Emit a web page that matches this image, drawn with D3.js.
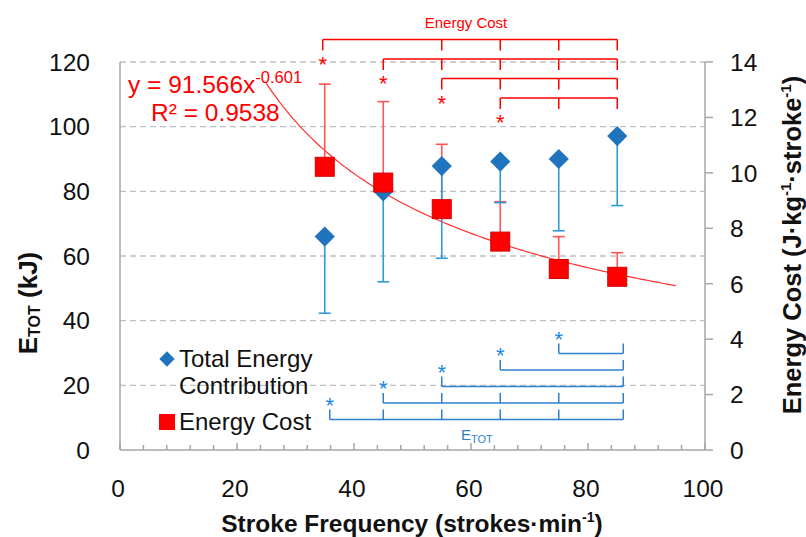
<!DOCTYPE html>
<html>
<head>
<meta charset="utf-8">
<script src="https://cdn.jsdelivr.net/npm/d3@7"></script>
<style>
  body { margin: 0; background: #fff; }
  svg { display: block; font-family: "Liberation Sans", Arial, sans-serif; }
</style>
</head>
<body>
<svg id="chart" width="806" height="537"></svg>
<script>
// stroke frequency (strokes/min)
const freq = [35, 45, 55, 65, 75, 85];
// total energy contribution, kJ (left axis), lower SD only
const etot = [66, 80, 87.8, 89.2, 90, 97.1];
const etotSD = [23.7, 28, 28.5, 12.7, 22.2, 21.5];
// energy cost, J/kg/stroke (right axis), upper SD only
const cost = [10.22, 9.65, 8.69, 7.52, 6.53, 6.25];
const costSD = [2.98, 2.92, 2.34, 1.44, 1.17, 0.87];

// power trendline shown on the chart: y = 91.566 x^-0.601
const trendCoef = 91.566, trendExp = -0.601, trendFrom = 25, trendTo = 95;

// significance brackets: [start freq, tick freqs]
const costBrackets = [
  [35, [35, 55, 65, 75, 85]],
  [45, [45, 55, 65, 75, 85]],
  [55, [55, 65, 75, 85]],
  [65, [65, 75, 85]]
];
const etotBrackets = [
  [35, [35, 45, 55, 65, 75, 85]],
  [45, [45, 55, 65, 75, 85]],
  [55, [55, 85]],
  [65, [65, 85]],
  [75, [75, 85]]
];

const xTicks = [0, 20, 40, 60, 80, 100];
const yLeftTicks = [0, 20, 40, 60, 80, 100, 120];
const yRightTicks = [0, 2, 4, 6, 8, 10, 12, 14];
const xMinor = d3.range(0, 101, 4);

const svg = d3.select("#chart");
const x = d3.scaleLinear().domain([0, 100]).range([120, 705]);
const yL = d3.scaleLinear().domain([0, 120]).range([450, 62]);
const yR = d3.scaleLinear().domain([0, 14]).range([450, 62]);

const RED = "#ff0000", BLUE = "#1f74bd", BLUEBAR = "#2e9ad8", BLUELINE = "#2f7fcf";
const AXIS = "#a6a6a6";

// grid
svg.append("g").selectAll("line").data(yLeftTicks.filter(d => d > 0)).join("line")
  .attr("x1", x(0)).attr("x2", x(100))
  .attr("y1", d => yL(d)).attr("y2", d => yL(d))
  .attr("stroke", "#c0c0c0").attr("stroke-width", 1.3).attr("stroke-dasharray", "6,4");

// axes lines
const ax = svg.append("g").attr("stroke", AXIS).attr("stroke-width", 1.5);
ax.append("line").attr("x1", x(0)).attr("x2", x(0)).attr("y1", yL(120)).attr("y2", yL(0));
ax.append("line").attr("x1", x(100)).attr("x2", x(100)).attr("y1", yL(120)).attr("y2", yL(0));
ax.append("line").attr("x1", x(0)).attr("x2", x(100)).attr("y1", yL(0)).attr("y2", yL(0));
ax.selectAll(".mt").data(xMinor).join("line")
  .attr("x1", d => x(d)).attr("x2", d => x(d))
  .attr("y1", yL(0)).attr("y2", d => yL(0) - (d % 20 === 0 ? 7 : 5));
ax.selectAll(".rt").data(yRightTicks).join("line")
  .attr("x1", x(100)).attr("x2", x(100) + 8)
  .attr("y1", d => yR(d)).attr("y2", d => yR(d));

// tick labels
const tl = svg.append("g").attr("font-size", 24.5).attr("fill", "#111");
tl.selectAll(".yl").data(yLeftTicks).join("text")
  .attr("x", 90).attr("y", d => yL(d)).attr("dy", "0.36em")
  .attr("text-anchor", "end").text(d => d);
tl.selectAll(".yr").data(yRightTicks).join("text")
  .attr("x", 730).attr("y", d => yR(d)).attr("dy", "0.36em")
  .text(d => d);
tl.selectAll(".xl").data(xTicks).join("text")
  .attr("x", d => x(d) - 2).attr("y", 497)
  .attr("text-anchor", "middle").text(d => d);

// axis titles
const lt = svg.append("text").attr("transform", "translate(37,303) rotate(-90)")
  .attr("text-anchor", "middle").attr("font-weight", "bold").attr("font-size", 26).attr("fill", "#111");
lt.append("tspan").text("E");
lt.append("tspan").attr("font-size", 16).attr("dy", 3).text("TOT");
lt.append("tspan").attr("dy", -3).text(" (kJ)");

const rt = svg.append("text").attr("transform", "translate(801,245) rotate(-90)")
  .attr("text-anchor", "middle").attr("font-weight", "bold").attr("font-size", 25.5).attr("fill", "#111");
rt.append("tspan").text("Energy Cost (J·kg");
rt.append("tspan").attr("font-size", 15).attr("dy", -10).text("-1");
rt.append("tspan").attr("dy", 10).text("·stroke");
rt.append("tspan").attr("font-size", 15).attr("dy", -10).text("-1");
rt.append("tspan").attr("dy", 10).text(")");

const bt = svg.append("text").attr("x", 412).attr("y", 532)
  .attr("text-anchor", "middle").attr("font-weight", "bold").attr("font-size", 24.5).attr("fill", "#111");
bt.append("tspan").text("Stroke Frequency (strokes·min");
bt.append("tspan").attr("font-size", 14).attr("dy", -10).text("-1");
bt.append("tspan").attr("dy", 10).text(")");

// trendline
const trend = d3.range(trendFrom, trendTo + 0.01, 0.5).map(f => [f, trendCoef * Math.pow(f, trendExp)]);
svg.append("path").datum(trend)
  .attr("d", d3.line().x(d => x(d[0])).y(d => yR(d[1])))
  .attr("fill", "none").attr("stroke", "#ff3030").attr("stroke-width", 1.2);

// error bars
const eb = svg.append("g");
freq.forEach((f, i) => {
  const top = yR(cost[i] + costSD[i]);
  eb.append("line").attr("x1", x(f)).attr("x2", x(f)).attr("y1", yR(cost[i])).attr("y2", top)
    .attr("stroke", "#ff5656").attr("stroke-width", 1.6);
  eb.append("line").attr("x1", x(f) - 6).attr("x2", x(f) + 6).attr("y1", top).attr("y2", top)
    .attr("stroke", "#ff5656").attr("stroke-width", 1.6);
});
freq.forEach((f, i) => {
  const bot = yL(etot[i] - etotSD[i]);
  eb.append("line").attr("x1", x(f)).attr("x2", x(f)).attr("y1", yL(etot[i])).attr("y2", bot)
    .attr("stroke", BLUEBAR).attr("stroke-width", 1.6);
  eb.append("line").attr("x1", x(f) - 6).attr("x2", x(f) + 6).attr("y1", bot).attr("y2", bot)
    .attr("stroke", BLUEBAR).attr("stroke-width", 1.6);
});

// markers
const diamond = d3.symbol().type(d3.symbolDiamond2).size(260);
svg.append("g").selectAll("path").data(freq).join("path")
  .attr("d", diamond)
  .attr("transform", (f, i) => `translate(${x(f)},${yL(etot[i])})`)
  .attr("fill", BLUE);
svg.append("g").selectAll("rect").data(freq).join("rect")
  .attr("x", f => x(f) - 9.5).attr("y", (f, i) => yR(cost[i]) - 9.5)
  .attr("width", 19).attr("height", 19)
  .attr("fill", RED).attr("stroke", "#d40000").attr("stroke-width", 1);

// equation
const eq = svg.append("g").attr("fill", RED).attr("font-size", 24.5);
const e1 = eq.append("text").attr("x", 128).attr("y", 93);
e1.append("tspan").text("y = 91.566x");
e1.append("tspan").attr("font-size", 16.5).attr("dy", -10).text("-0.601");
eq.append("text").attr("x", 151).attr("y", 121).text("R² = 0.9538");

// brackets - energy cost (top, red)
const cb = svg.append("g").attr("stroke", RED).attr("stroke-width", 1.5).attr("fill", "none");
costBrackets.forEach(([start, ticks], i) => {
  const yy = 39.5 + i * 19.5;
  const bx = d => x(d) - (d === 35 ? 2 : 0);
  cb.append("line").attr("x1", bx(start)).attr("x2", x(85)).attr("y1", yy).attr("y2", yy);
  cb.selectAll(null).data(ticks).join("line")
    .attr("x1", bx).attr("x2", bx).attr("y1", yy).attr("y2", yy + 11);
  svg.append("text").attr("x", bx(start)).attr("y", yy + 32).attr("text-anchor", "middle")
    .attr("font-size", 22).attr("fill", RED).text("*");
});
svg.append("text").attr("x", 466).attr("y", 28).attr("text-anchor", "middle")
  .attr("font-size", 15).attr("fill", RED).text("Energy Cost");

// brackets - E_TOT (bottom, blue)
const bb = svg.append("g").attr("stroke", BLUELINE).attr("stroke-width", 1.5).attr("fill", "none");
etotBrackets.forEach(([start, ticks], i) => {
  const yy = 419.5 - i * 16.5;
  const bx = d => x(d) + (d === 85 ? 6 : d === 35 ? 5 : 0);
  bb.append("line").attr("x1", bx(start)).attr("x2", bx(85)).attr("y1", yy).attr("y2", yy);
  bb.selectAll(null).data(ticks).join("line")
    .attr("x1", bx).attr("x2", bx)
    .attr("y1", yy).attr("y2", yy - 10);
  svg.append("text").attr("x", bx(start)).attr("y", yy - 7).attr("text-anchor", "middle")
    .attr("font-size", 22).attr("fill", "#1a8ae0").text("*");
});
const et = svg.append("text").attr("x", 461).attr("y", 440).attr("fill", BLUELINE).attr("font-size", 15);
et.append("tspan").text("E");
et.append("tspan").attr("font-size", 11).attr("dy", 3).text("TOT");

// legend
const lg = svg.append("g").attr("font-size", 24).attr("fill", "#111");
lg.append("path").attr("d", d3.symbol().type(d3.symbolDiamond2).size(150))
  .attr("transform", "translate(167,359)").attr("fill", BLUE);
lg.append("text").attr("x", 179).attr("y", 367).text("Total Energy");
lg.append("text").attr("x", 179).attr("y", 394).text("Contribution");
lg.append("rect").attr("x", 159).attr("y", 414).attr("width", 16).attr("height", 16).attr("fill", RED);
lg.append("text").attr("x", 179).attr("y", 430).text("Energy Cost");
</script>
</body>
</html>
